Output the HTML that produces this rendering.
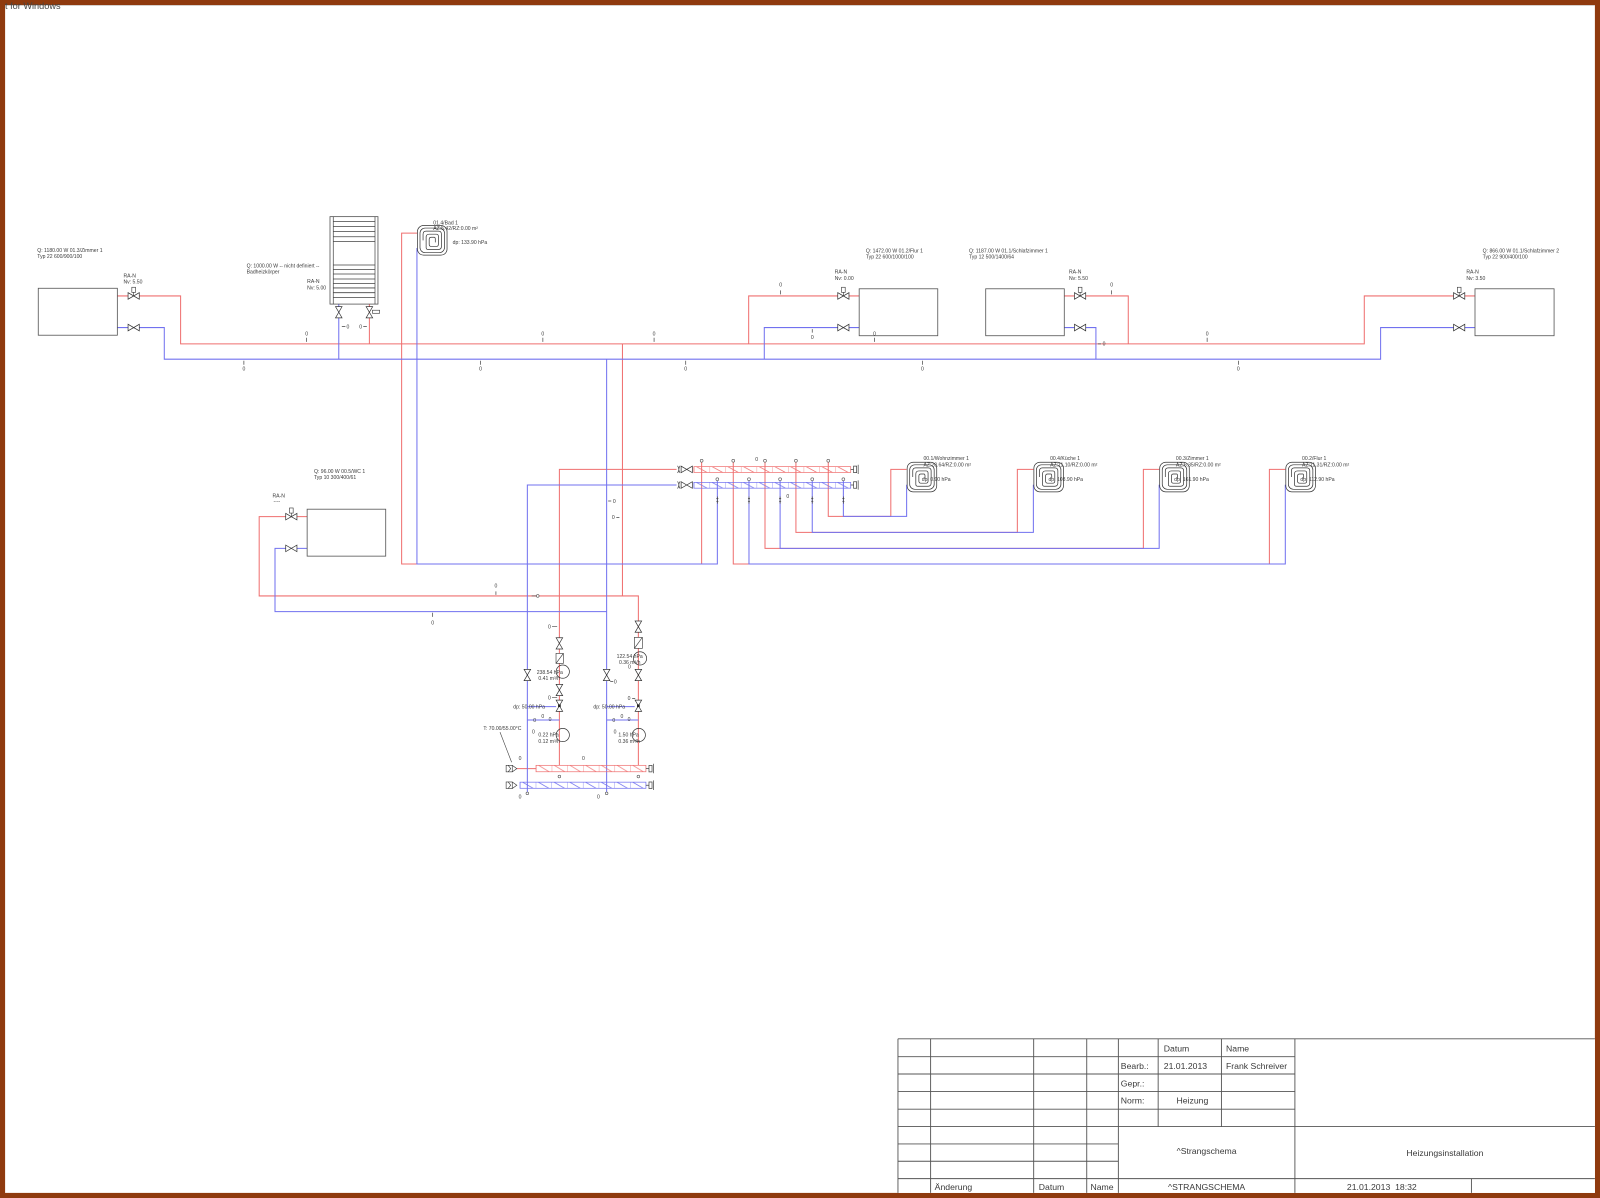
<!DOCTYPE html>
<html><head><meta charset="utf-8"><title>Strangschema</title>
<style>
html,body{margin:0;padding:0;background:#fff;overflow:hidden;}
svg{display:block;}
text{font-family:"Liberation Sans",Arial,sans-serif;fill:#3a3a3a;}
.s{font-size:5px;}
.t{font-size:8.5px;fill:#222;}
.r{fill:none;stroke:#ef6f6f;stroke-width:1;}
.b{fill:none;stroke:#7171ef;stroke-width:1;}
.k{fill:none;stroke:#444;stroke-width:0.7;}
.g{fill:none;stroke:#555;stroke-width:0.8;}
.tb{stroke:#555;stroke-width:0.9;fill:none;}
</style></head><body>
<svg width="1600" height="1198" viewBox="0 0 1568 1174" preserveAspectRatio="none" xmlns="http://www.w3.org/2000/svg">
<defs>
<g id="vh"><path d="M-5.5,-3.2 L-5.5,3.2 L5.5,-3.2 L5.5,3.2 Z" fill="#fff" stroke="#333" stroke-width="0.7"/></g>
<g id="vv"><path d="M-3.2,-5.5 L3.2,-5.5 L-3.2,5.5 L3.2,5.5 Z" fill="#fff" stroke="#333" stroke-width="0.7"/></g>
<g id="th"><line x1="0" y1="-3.5" x2="0" y2="0" stroke="#333" stroke-width="0.6"/><rect x="-1.8" y="-8.5" width="3.6" height="5" fill="#fff" stroke="#333" stroke-width="0.6"/></g>
<g id="coil" fill="none" stroke="#333" stroke-width="0.7">
 <rect x="0.5" y="0.5" width="29" height="29" rx="6"/>
 <rect x="3" y="3" width="24" height="24" rx="5"/>
 <path d="M6,15 V9 Q6,6 9,6 H21 Q24,6 24,9 V21 Q24,24 21,24 H11 Q9,24 9,22 V12 Q9,9 12,9 H19 Q21,9 21,11 V19 Q21,21 19,21 H14 Q12,21 12,19 V14 Q12,12 14,12 H17 Q18,12 18,14 V17"/>
</g>
<g id="gen" fill="#fff" stroke="#333" stroke-width="0.6"><rect x="0" y="0" width="6" height="6.4"/><path d="M6,0 L10.5,3.2 L6,6.4" fill="none"/><path d="M2,0 L4.5,3.2 L2,6.4" fill="none"/></g>
<pattern id="p1" patternUnits="userSpaceOnUse" x="680" y="457.3" width="15.37" height="5.7"><path d="M0,0V5.7M2.5,0L12.9,5.7" stroke="#ef6f6f" stroke-width="0.7" fill="none"/></pattern>
<pattern id="p2" patternUnits="userSpaceOnUse" x="680" y="472.7" width="15.37" height="5.7"><path d="M0,0V5.7M2.5,0L12.9,5.7" stroke="#7171ef" stroke-width="0.7" fill="none"/></pattern>
<pattern id="p3" patternUnits="userSpaceOnUse" x="525.3" y="750" width="15.39" height="6.3"><path d="M0,0V6.3M2.5,0L12.9,6.3" stroke="#ef6f6f" stroke-width="0.7" fill="none"/></pattern>
<pattern id="p4" patternUnits="userSpaceOnUse" x="509.6" y="766.5" width="15.42" height="6"><path d="M0,0V6M2.5,0L12.9,6" stroke="#7171ef" stroke-width="0.7" fill="none"/></pattern>
</defs>

<!-- frame -->
<rect x="0" y="0" width="1568" height="1174" fill="#8f3a0e"/>
<rect x="5" y="5" width="1558" height="1164" fill="#fff"/>
<line x1="5" y1="5.6" x2="1563" y2="5.6" stroke="#ccc" stroke-width="0.6"/>
<text x="4.9" y="9" style="font-size:9px;fill:#444">t for Windows</text>

<!-- RED pipes -->
<path class="r" d="M115,290 H177 V337 H1337 V290 H1445.5"/>
<path class="r" d="M362,298 V337"/>
<path class="r" d="M842,290 H733.7 V337"/>
<path class="r" d="M1043,290 H1105.7 V337"/>
<path class="r" d="M409,228.5 H393.6 V552.7 H687.6 V453"/>
<path class="r" d="M610,337 V584"/>
<path class="r" d="M301,506.3 H254 V584 H625.6 V750"/>
<path class="r" d="M663,460 H548.2 V750"/>
<path class="r" d="M811.7,453 V506 H873 V460 H888.5"/>
<path class="r" d="M780,453 V521.7 H997 V460 H1012.7"/>
<path class="r" d="M749.7,453 V537.4 H1120.5 V460 H1136"/>
<path class="r" d="M718.6,453 V552.7 H1244 V460 H1259.6"/>
<path class="r" d="M506.5,753.2 H525.3"/>

<!-- BLUE pipes -->
<path class="b" d="M115,321 H161 V352 H1353 V321 H1445.5"/>
<path class="b" d="M332,298 V352"/>
<path class="b" d="M842,321 H749 V352"/>
<path class="b" d="M1043,321 H1074 V352"/>
<path class="b" d="M408.6,243 V552.7 H703 V471"/>
<path class="b" d="M594.5,352 V776"/>
<path class="b" d="M301,537.4 H269.5 V599.4 H594.5"/>
<path class="b" d="M663,475.3 H516.8 V776"/>
<path class="b" d="M826.5,471 V506 H888.5 V475"/>
<path class="b" d="M796,471 V521.7 H1012.7 V475"/>
<path class="b" d="M764.5,471 V537.4 H1136 V475"/>
<path class="b" d="M734,471 V552.7 H1259.6 V475"/>
<path class="b" d="M516.8,692.5 H545 M594.5,692.5 H622 M516.8,705.6 H548.2 M594.5,705.6 H625.6"/>

<!-- radiators -->
<rect class="g" x="37.5" y="282.5" width="77.5" height="46"/>
<rect class="g" x="842" y="283" width="77" height="46"/>
<rect class="g" x="966" y="283" width="77" height="46"/>
<rect class="g" x="1445.5" y="283" width="77.5" height="46"/>
<rect class="g" x="301" y="499" width="77" height="46"/>
<!-- towel radiator -->
<rect class="g" x="323.4" y="212.3" width="47" height="85.7" fill="#fff"/>
<path class="k" d="M326.6,212.3V298 M367.5,212.3V298"/>
<path stroke="#444" stroke-width="0.8" fill="none" d="M326.6,217.2H367.5 M326.6,222.1H367.5 M326.6,227H367.5 M326.6,232H367.5 M326.6,236.8H367.5 M326.6,259.7H367.5 M326.6,264H367.5 M326.6,268.5H367.5 M326.6,273.4H367.5 M326.6,277.7H367.5 M326.6,282.2H367.5 M326.6,286.8H367.5 M326.6,291.4H367.5"/>

<!-- valves top -->
<use href="#vh" x="131" y="290"/><use href="#th" x="131" y="290"/>
<use href="#vh" x="131" y="321"/>
<use href="#vv" x="332" y="306"/>
<use href="#vv" x="362" y="306"/>
<rect x="365" y="304" width="7" height="3" fill="#fff" stroke="#333" stroke-width="0.6"/>
<use href="#vh" x="826.5" y="290"/><use href="#th" x="826.5" y="290"/>
<use href="#vh" x="826.5" y="321"/>
<use href="#vh" x="1058.5" y="290"/><use href="#th" x="1058.5" y="290"/>
<use href="#vh" x="1058.5" y="321"/>
<use href="#vh" x="1430" y="290"/><use href="#th" x="1430" y="290"/>
<use href="#vh" x="1430" y="321"/>
<use href="#vh" x="285.5" y="506.3"/><use href="#th" x="285.5" y="506.3"/>
<use href="#vh" x="285.5" y="537.4"/>

<!-- coils -->
<use href="#coil" x="408.6" y="220.5"/>
<use href="#coil" x="888.5" y="452.5"/>
<use href="#coil" x="1012.7" y="452.5"/>
<use href="#coil" x="1136" y="452.5"/>
<use href="#coil" x="1259.6" y="452.5"/>

<!-- upper manifold -->
<rect x="680" y="457.3" width="153.7" height="5.7" fill="url(#p1)" stroke="#ef6f6f" stroke-width="0.7"/>
<rect x="680" y="472.7" width="153.7" height="5.7" fill="url(#p2)" stroke="#7171ef" stroke-width="0.7"/>
<path class="k" d="M664,456.5 Q666.5,460 664,463.5 M666.5,456.5 Q664,460 666.5,463.5 M664,471.8 Q666.5,475.3 664,478.8 M666.5,471.8 Q664,475.3 666.5,478.8"/>
<use href="#vh" x="673" y="460"/><use href="#vh" x="673" y="475.3"/>
<path class="k" d="M833.7,460 H836.5 M836.5,456.8 h3 v6.4 h-3 z M841,455.5 V464.5 M833.7,475.3 H836.5 M836.5,472.1 h3 v6.4 h-3 z M841,470.8 V479.8"/>
<g fill="#fff" stroke="#555" stroke-width="0.6">
<circle cx="687.6" cy="451.5" r="1.4"/><circle cx="718.6" cy="451.5" r="1.4"/><circle cx="749.7" cy="451.5" r="1.4"/><circle cx="780" cy="451.5" r="1.4"/><circle cx="811.7" cy="451.5" r="1.4"/>
<circle cx="703" cy="469.6" r="1.4"/><circle cx="734" cy="469.6" r="1.4"/><circle cx="764.5" cy="469.6" r="1.4"/><circle cx="796" cy="469.6" r="1.4"/><circle cx="826.5" cy="469.6" r="1.4"/>
</g>
<path stroke="#444" stroke-width="0.7" fill="none" d="M703,486.5V493.5 M702,488.5h2 M702,491.5h2 M734,486.5V493.5 M733,488.5h2 M733,491.5h2 M764.5,486.5V493.5 M763.5,488.5h2 M763.5,491.5h2 M796,486.5V493.5 M795,488.5h2 M795,491.5h2 M826.5,486.5V493.5 M825.5,488.5h2 M825.5,491.5h2"/>

<!-- pump group -->
<use href="#vv" x="548.2" y="630.5"/>
<rect x="544.9" y="640.3" width="7.2" height="9.8" fill="#fff" stroke="#333" stroke-width="0.6"/>
<line x1="544.9" y1="650.1" x2="552.1" y2="640.3" stroke="#333" stroke-width="0.6"/>
<circle cx="551.5" cy="658.2" r="6.5" fill="none" stroke="#333" stroke-width="0.7"/>
<use href="#vv" x="548.2" y="676.2"/>
<use href="#vv" x="548.2" y="691.6"/><rect x="546.9" y="690.3" width="2.6" height="2.6" fill="#222"/>
<circle cx="551.5" cy="720.3" r="6.5" fill="none" stroke="#333" stroke-width="0.7"/>
<use href="#vv" x="516.8" y="661.5"/>
<use href="#vv" x="594.5" y="661.5"/>
<use href="#vv" x="625.6" y="614.1"/>
<rect x="621.7" y="624.6" width="7.8" height="10.8" fill="#fff" stroke="#333" stroke-width="0.6"/>
<line x1="621.7" y1="635.4" x2="629.5" y2="624.6" stroke="#333" stroke-width="0.6"/>
<circle cx="627.2" cy="645.2" r="6.5" fill="none" stroke="#333" stroke-width="0.7"/>
<use href="#vv" x="625.6" y="661.5"/>
<use href="#vv" x="625.6" y="691.6"/><rect x="624.3" y="690.3" width="2.6" height="2.6" fill="#222"/>
<circle cx="626" cy="720.3" r="6.5" fill="none" stroke="#333" stroke-width="0.7"/>

<!-- lower manifold -->
<rect x="525.3" y="750" width="107.7" height="6.3" fill="url(#p3)" stroke="#ef6f6f" stroke-width="0.7"/>
<rect x="509.6" y="766.5" width="123.4" height="6" fill="url(#p4)" stroke="#7171ef" stroke-width="0.7"/>
<use href="#gen" x="496" y="750"/>
<use href="#gen" x="496" y="766.3"/>
<path class="k" d="M633,753.2 H636 M636,750 h3 v6.4 h-3 z M640.5,748.5 V757.8 M633,769.5 H636 M636,766.3 h3 v6.4 h-3 z M640.5,764.8 V774.2"/>
<line x1="490" y1="717.5" x2="501.4" y2="747" stroke="#444" stroke-width="0.6"/>
<g fill="#fff" stroke="#555" stroke-width="0.6">
<circle cx="548.2" cy="761" r="1.3"/><circle cx="625.6" cy="761" r="1.3"/>
<circle cx="516.8" cy="777.5" r="1.3"/><circle cx="594.5" cy="777.5" r="1.3"/>
<circle cx="527" cy="584" r="1.3"/>
</g>

<!-- ticks -->
<path class="k" d="M300.5,331V335 M532,331V335 M641,331V335 M857,331V335 M1183,331V335 M765,284.5V288.5 M1089.4,284.5V288.5 M239,353.5V357.5 M471,353.5V357.5 M672,353.5V357.5 M904,353.5V357.5 M1213.6,353.5V357.5 M796,322.5V326 M486,579.5V583 M424,600.5V604.5 M335,320H338.5 M356,320H359.5 M1076,337H1079 M596,491H599 M604,507H607 M541,614H546 M598,668H601 M619.5,684.4H622.5 M541,683.7H546 M521,584H525.5"/>

<!-- small labels -->
<g class="s" text-anchor="middle">
<text x="300.5" y="329">0</text><text x="532" y="329">0</text><text x="641" y="329">0</text><text x="857" y="329">0</text><text x="1183" y="329">0</text>
<text x="765" y="281">0</text><text x="1089.4" y="281">0</text>
<text x="239" y="363">0</text><text x="471" y="363">0</text><text x="672" y="363">0</text><text x="904" y="363">0</text><text x="1213.6" y="363">0</text>
<text x="796" y="332.3">0</text>
<text x="341" y="321.8">0</text><text x="353.5" y="321.8">0</text>
<text x="1082" y="338.8">0</text>
<text x="741.5" y="452">0</text><text x="772" y="488">0</text>
<text x="602" y="492.8">0</text><text x="601" y="508.8">0</text>
<text x="486" y="575.5">0</text><text x="424" y="612">0</text>
<text x="538.5" y="615.8">0</text><text x="603" y="669.8">0</text><text x="616.5" y="686.2">0</text><text x="538.5" y="685.5">0</text>
<text x="616.8" y="655">0</text>
<text x="524" y="707.5">0</text><text x="532" y="703.5">0</text><text x="539" y="706.5">0</text>
<text x="601.5" y="707.5">0</text><text x="609.5" y="703.5">0</text><text x="616.5" y="706.5">0</text>
<text x="522.7" y="718.8">0</text><text x="602.7" y="718.8">0</text>
<text x="509.6" y="745">0</text><text x="571.7" y="745">0</text>
<text x="509.6" y="782.5">0</text><text x="586.4" y="782.5">0</text>
</g>

<!-- top labels -->
<g class="s">
<text x="36.5" y="247">Q: 1180.00 W 01.3/Zimmer 1</text>
<text x="36.5" y="253">Typ 22 600/900/100</text>
<text x="121" y="272">RA-N</text>
<text x="121" y="278">Nv: 5.50</text>
<text x="241.7" y="262">Q: 1000.00 W -- nicht definiert --</text>
<text x="241.7" y="268">Badheizkörper</text>
<text x="301" y="277.5">RA-N</text>
<text x="301" y="283.5">Nv: 5.00</text>
<text x="424.6" y="220">01.4/Bad 1</text>
<text x="424.6" y="225.5">AZ:5.42/RZ:0.00 m²</text>
<text x="443.6" y="239">dp: 133.90 hPa</text>
<text x="848.5" y="247.5">Q: 1472.00 W 01.2/Flur 1</text>
<text x="848.5" y="253.5">Typ 22 600/1000/100</text>
<text x="818" y="268">RA-N</text>
<text x="818" y="274.5">Nv: 0.00</text>
<text x="949.6" y="247.5">Q: 1187.00 W 01.1/Schlafzimmer 1</text>
<text x="949.6" y="253.5">Typ 12 500/1400/64</text>
<text x="1047.6" y="268">RA-N</text>
<text x="1047.6" y="274.5">Nv: 5.50</text>
<text x="1453" y="247.5">Q: 866.00 W 01.1/Schlafzimmer 2</text>
<text x="1453" y="253.5">Typ 22 900/400/100</text>
<text x="1437" y="268">RA-N</text>
<text x="1437" y="274.5">Nv: 3.50</text>
<text x="307.7" y="463.5">Q: 96.00 W 00.5/WC 1</text>
<text x="307.7" y="469.5">Typ 10 300/400/61</text>
<text x="267" y="487.5">RA-N</text>
<text x="268" y="493">----</text>
<text x="905" y="451">00.1/Wohnzimmer 1</text>
<text x="905" y="457">AZ:20.64/RZ:0.00 m²</text>
<text x="903.3" y="471.5">dp: 0.90 hPa</text>
<text x="1029.1" y="451">00.4/Küche 1</text>
<text x="1029.1" y="457">AZ:11.10/RZ:0.00 m²</text>
<text x="1027.5" y="471.5">dp: 108.90 hPa</text>
<text x="1152.4" y="451">00.3/Zimmer 1</text>
<text x="1152.4" y="457">AZ:6.35/RZ:0.00 m²</text>
<text x="1150.8" y="471.5">dp: 161.90 hPa</text>
<text x="1276" y="451">00.2/Flur 1</text>
<text x="1276" y="457">AZ:11.31/RZ:0.00 m²</text>
<text x="1274.4" y="471.5">dp: 112.90 hPa</text>
<text x="526" y="660.7">238.54 hPa</text>
<text x="527.6" y="666.6">0.41 m³/h</text>
<text x="503" y="694.3">dp: 50.00 hPa</text>
<text x="527.6" y="722">0.22 hPa</text>
<text x="527.6" y="728">0.12 m³/h</text>
<text x="473.7" y="715.6">T: 70.00/55.00°C</text>
<text x="604.3" y="644.7">122.54 hPa</text>
<text x="606.6" y="650.9">0.36 m³/h</text>
<text x="581.5" y="694.3">dp: 50.00 hPa</text>
<text x="606" y="722">1.50 hPa</text>
<text x="606" y="728">0.36 m³/h</text>
</g>

<!-- title block -->
<rect x="880" y="1018" width="683" height="151" fill="#fff"/>
<path class="tb" d="M880,1018H1563 M880,1035.5H1269 M880,1052.5H1269 M880,1069.7H1269 M880,1087H1269 M880,1104H1563 M880,1121H1096 M880,1138H1096 M880,1155H1563
M880,1018V1169 M912,1018V1169 M1013,1018V1169 M1065,1018V1169 M1096,1018V1169 M1135,1018V1104 M1197,1018V1104 M1269,1018V1169 M1442,1155V1169"/>
<g class="t">
<text x="1140.5" y="1030.5">Datum</text>
<text x="1201.5" y="1030.5">Name</text>
<text x="1098.4" y="1047.5">Bearb.:</text>
<text x="1140.5" y="1047.5">21.01.2013</text>
<text x="1201.5" y="1047.5">Frank Schreiver</text>
<text x="1098.4" y="1064.5">Gepr.:</text>
<text x="1098.4" y="1081.5">Norm:</text>
<text x="1153" y="1081.5">Heizung</text>
<text x="1182.5" y="1131" text-anchor="middle">^Strangschema</text>
<text x="1416" y="1133" text-anchor="middle">Heizungsinstallation</text>
<text x="916" y="1166">Änderung</text>
<text x="1018" y="1166">Datum</text>
<text x="1068.7" y="1166">Name</text>
<text x="1182.5" y="1166" text-anchor="middle">^STRANGSCHEMA</text>
<text x="1320" y="1166" xml:space="preserve">21.01.2013  18:32</text>
</g>
</svg>
</body></html>
